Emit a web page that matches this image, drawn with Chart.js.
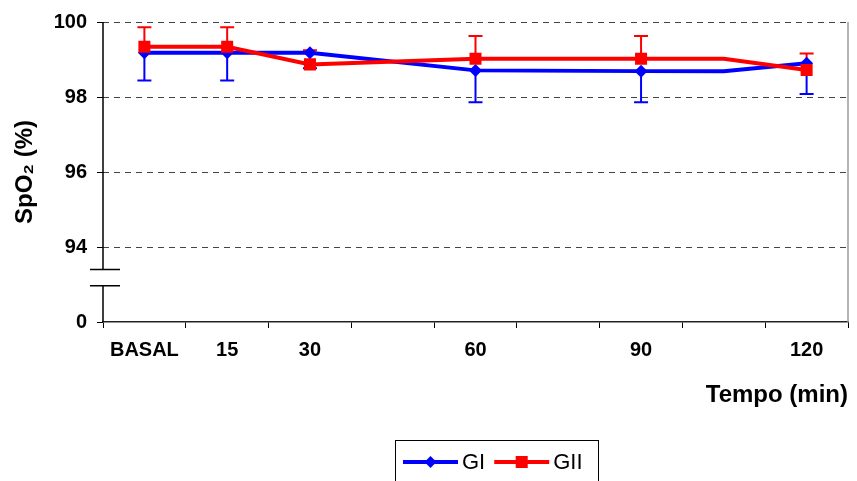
<!DOCTYPE html>
<html>
<head>
    <meta charset="utf-8">
    <title>SpO2 por tempo</title>
    <script src="https://cdn.jsdelivr.net/npm/chart.js@4"></script>
    <style>
        body { margin: 0; background: #fff; }
    </style>
</head>
<body>
<canvas id="spo2Chart" width="857" height="481"></canvas>
<script>
    // Categories (45, 75 and 105 min have no label)
    const labels = ['BASAL', '15', '30', '', '60', '', '90', '', '120'];

    // Mean SpO2 per group, null where the group has no value
    const gI  = [99.18, 99.18, 99.18, null, 98.71, null, 98.69, 98.69, 98.90];
    const gII = [99.34, 99.34, 98.87, null, 99.02, null, 99.02, 99.02, 98.72];

    // Error bars: GI drawn downwards, GII upwards
    const gIErr  = [0.74, 0.74, 0.41, null, 0.85, null, 0.83, null, 0.82];
    const gIIErr = [0.52, 0.52, 0.38, null, 0.61, null, 0.61, null, 0.44];

    // Y ticks; 92 sits under the axis break and is shown as "0"
    const yTicks = [92, 94, 96, 98, 100];

    const FONT = "'Liberation Sans', Arial, sans-serif";

    // Vertical error bars with caps, drawn under the lines
    const errorBars = {
        id: 'errorBars',
        beforeDatasetsDraw(chart) {
            const ctx = chart.ctx;
            const yScale = chart.scales.y;
            ctx.save();
            chart.data.datasets.forEach((ds, i) => {
                const meta = chart.getDatasetMeta(i);
                ds.errors.forEach((e, j) => {
                    if (e == null || ds.data[j] == null) return;
                    const x = meta.data[j].x;
                    const y0 = yScale.getPixelForValue(ds.data[j]);
                    const y1 = yScale.getPixelForValue(ds.data[j] + ds.errDir * e);
                    ctx.strokeStyle = ds.borderColor;
                    ctx.lineWidth = 2;
                    ctx.beginPath();
                    ctx.moveTo(x, y0);
                    ctx.lineTo(x, y1);
                    ctx.moveTo(x - 7, y1);
                    ctx.lineTo(x + 7, y1);
                    ctx.stroke();
                });
            });
            ctx.restore();
        }
    };

    // Y axis line with a break between 0 and 94, plus the grey right border
    const brokenAxis = {
        id: 'brokenAxis',
        afterDatasetsDraw(chart) {
            const ctx = chart.ctx;
            const area = chart.chartArea;
            const yScale = chart.scales.y;
            const breakTop = yScale.getPixelForValue(93.4);
            const breakBottom = yScale.getPixelForValue(92.97);
            ctx.save();
            ctx.strokeStyle = '#000';
            ctx.lineWidth = 1.5;
            ctx.beginPath();
            ctx.moveTo(area.left, area.top);
            ctx.lineTo(area.left, breakTop);
            ctx.moveTo(area.left, breakBottom);
            ctx.lineTo(area.left, area.bottom);
            ctx.moveTo(area.left - 13, breakTop);
            ctx.lineTo(area.left + 17, breakTop);
            ctx.moveTo(area.left - 13, breakBottom);
            ctx.lineTo(area.left + 17, breakBottom);
            ctx.stroke();

            ctx.strokeStyle = '#9a9a9a';
            ctx.lineWidth = 1.5;
            ctx.beginPath();
            ctx.moveTo(area.right, area.top);
            ctx.lineTo(area.right, area.bottom);
            ctx.stroke();
            ctx.restore();
        }
    };

    // Boxed legend at the bottom: line with marker, then the label
    const boxLegend = {
        id: 'boxLegend',
        afterDraw(chart) {
            const ctx = chart.ctx;
            ctx.save();
            ctx.strokeStyle = '#000';
            ctx.lineWidth = 1;
            ctx.strokeRect(395.5, 440.5, 203, 45);
            ctx.font = `22px ${FONT}`;
            ctx.textBaseline = 'middle';
            let x = 403;
            const y = 462;
            const order = [1, 0]; // GI first, GII second
            order.forEach(i => {
                const ds = chart.data.datasets[i];
                ctx.strokeStyle = ds.borderColor;
                ctx.fillStyle = ds.borderColor;
                ctx.lineWidth = 4;
                ctx.beginPath();
                ctx.moveTo(x, y);
                ctx.lineTo(x + 55, y);
                ctx.stroke();
                const mx = x + 27.5;
                ctx.beginPath();
                if (ds.pointStyle === 'rectRot') {
                    ctx.moveTo(mx, y - 6);
                    ctx.lineTo(mx + 6, y);
                    ctx.lineTo(mx, y + 6);
                    ctx.lineTo(mx - 6, y);
                    ctx.closePath();
                } else {
                    ctx.rect(mx - 6, y - 6, 12, 12);
                }
                ctx.fill();
                ctx.fillStyle = '#000';
                ctx.fillText(ds.label, x + 59, y + 1);
                x += 59 + ctx.measureText(ds.label).width + 9;
            });
            ctx.restore();
        }
    };

    const ctx = document.getElementById('spo2Chart').getContext('2d');
    new Chart(ctx, {
        type: 'line',
        data: {
            labels: labels,
            datasets: [{
                label: 'GII',
                data: gII,
                errors: gIIErr,
                errDir: 1,
                order: 1,
                borderColor: '#ff0000',
                backgroundColor: '#ff0000',
                borderWidth: 4,
                pointStyle: 'rect',
                pointRadius: c => labels[c.dataIndex] ? 8.5 : 0,
                pointBorderWidth: 0,
                spanGaps: true,
                tension: 0
            }, {
                label: 'GI',
                data: gI,
                errors: gIErr,
                errDir: -1,
                order: 2,
                borderColor: '#0000ff',
                backgroundColor: '#0000ff',
                borderWidth: 4,
                pointStyle: 'rectRot',
                pointRadius: c => labels[c.dataIndex] ? 6.5 : 0,
                pointBorderWidth: 0,
                spanGaps: true,
                tension: 0
            }]
        },
        options: {
            responsive: false,
            animation: false,
            layout: {
                padding: { top: 22, right: 9, bottom: 71, left: 0 }
            },
            plugins: {
                legend: { display: false },
                tooltip: { enabled: false }
            },
            scales: {
                x: {
                    offset: true,
                    afterFit: s => { s.height = 88; },
                    grid: {
                        offset: true,
                        drawOnChartArea: false,
                        tickLength: 6,
                        tickColor: '#000',
                        tickWidth: 1
                    },
                    border: { display: true, color: '#222', width: 1.5 },
                    ticks: {
                        autoSkip: false,
                        maxRotation: 0,
                        padding: 10,
                        color: '#000',
                        font: { family: FONT, size: 20, weight: 'bold' }
                    },
                    title: {
                        display: true,
                        text: 'Tempo (min)',
                        align: 'end',
                        color: '#000',
                        padding: { top: 0, bottom: 0 },
                        font: { family: FONT, size: 24, weight: 'bold' }
                    }
                },
                y: {
                    min: 92,
                    max: 100,
                    afterFit: s => { s.width = 103; },
                    afterBuildTicks: s => { s.ticks = yTicks.map(v => ({ value: v })); },
                    grid: {
                        color: c => (c.tick && c.tick.value === 92) ? 'rgba(0,0,0,0)' : '#444',
                        lineWidth: 1,
                        tickLength: 6,
                        tickColor: '#000',
                        tickBorderDash: []
                    },
                    border: { display: false, dash: [6, 5] },
                    ticks: {
                        padding: 10,
                        color: '#000',
                        font: { family: FONT, size: 20, weight: 'bold' },
                        callback: v => v === 92 ? '0' : String(v)
                    },
                    title: {
                        display: true,
                        text: 'SpO₂ (%)',
                        color: '#000',
                        padding: { top: 11, bottom: 0 },
                        font: { family: FONT, size: 24, weight: 'bold' }
                    }
                }
            }
        },
        plugins: [errorBars, brokenAxis, boxLegend]
    });
</script>
</body>
</html>
